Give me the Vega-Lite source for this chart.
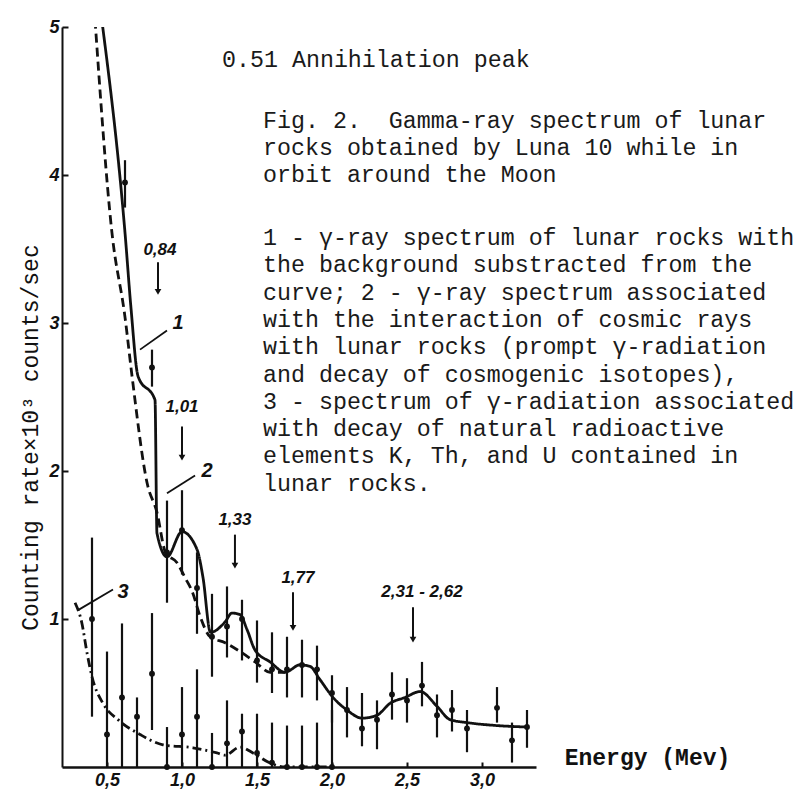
{
  "$schema": "https://vega.github.io/schema/vega-lite/v6.json",
  "autosize": {"type": "none"},
  "padding": {"left": 62, "top": 27, "right": 266, "bottom": 23},
  "width": 474,
  "height": 740,
  "background": "white",
  "config": {
    "view": {"stroke": null},
    "axis": {
      "labelFont": "Liberation Sans", "labelFontSize": 18, "labelFontStyle": "italic", "labelFontWeight": "bold",
      "labelColor": "#111", "tickColor": "#111", "tickWidth": 2, "domainColor": "#111", "grid": false,
      "titleColor": "#111"
    }
  },
  "datasets": {
    "curves": [
      {"curve": "1", "E": 0.465, "V": 5.05}, {"curve": "1", "E": 0.62, "V": 3.61}, {"curve": "1", "E": 0.66, "V": 3.1},
      {"curve": "1", "E": 0.707, "V": 2.64}, {"curve": "1", "E": 0.82, "V": 2.48}, {"curve": "1", "E": 0.833, "V": 1.58},
      {"curve": "1", "E": 0.9, "V": 1.42}, {"curve": "1", "E": 1.0, "V": 1.59}, {"curve": "1", "E": 1.1, "V": 1.47},
      {"curve": "1", "E": 1.14, "V": 1.28}, {"curve": "1", "E": 1.19, "V": 0.91}, {"curve": "1", "E": 1.287, "V": 0.98},
      {"curve": "1", "E": 1.333, "V": 1.04}, {"curve": "1", "E": 1.387, "V": 1.03}, {"curve": "1", "E": 1.433, "V": 0.93},
      {"curve": "1", "E": 1.487, "V": 0.79}, {"curve": "1", "E": 1.587, "V": 0.71}, {"curve": "1", "E": 1.687, "V": 0.64},
      {"curve": "1", "E": 1.787, "V": 0.69}, {"curve": "1", "E": 1.853, "V": 0.68}, {"curve": "1", "E": 1.92, "V": 0.59},
      {"curve": "1", "E": 2.007, "V": 0.47}, {"curve": "1", "E": 2.1, "V": 0.385}, {"curve": "1", "E": 2.2, "V": 0.33},
      {"curve": "1", "E": 2.3, "V": 0.35}, {"curve": "1", "E": 2.387, "V": 0.43}, {"curve": "1", "E": 2.487, "V": 0.47},
      {"curve": "1", "E": 2.587, "V": 0.51}, {"curve": "1", "E": 2.7, "V": 0.41}, {"curve": "1", "E": 2.787, "V": 0.32},
      {"curve": "1", "E": 2.9, "V": 0.3}, {"curve": "1", "E": 3.1, "V": 0.28}, {"curve": "1", "E": 3.3, "V": 0.27},
      {"curve": "2", "E": 0.42, "V": 5.05}, {"curve": "2", "E": 0.533, "V": 3.61}, {"curve": "2", "E": 0.62, "V": 3.04},
      {"curve": "2", "E": 0.667, "V": 2.64}, {"curve": "2", "E": 0.767, "V": 1.92}, {"curve": "2", "E": 0.833, "V": 1.72},
      {"curve": "2", "E": 0.89, "V": 1.45}, {"curve": "2", "E": 0.967, "V": 1.38}, {"curve": "2", "E": 1.02, "V": 1.28},
      {"curve": "2", "E": 1.07, "V": 1.18}, {"curve": "2", "E": 1.12, "V": 1.02}, {"curve": "2", "E": 1.187, "V": 0.88},
      {"curve": "2", "E": 1.287, "V": 0.84}, {"curve": "2", "E": 1.387, "V": 0.78}, {"curve": "2", "E": 1.487, "V": 0.71},
      {"curve": "2", "E": 1.587, "V": 0.64}, {"curve": "2", "E": 1.687, "V": 0.64},
      {"curve": "3", "E": 0.287, "V": 1.11}, {"curve": "3", "E": 0.333, "V": 0.97}, {"curve": "3", "E": 0.367, "V": 0.77},
      {"curve": "3", "E": 0.4, "V": 0.61}, {"curve": "3", "E": 0.473, "V": 0.43}, {"curve": "3", "E": 0.573, "V": 0.32},
      {"curve": "3", "E": 0.72, "V": 0.22}, {"curve": "3", "E": 0.873, "V": 0.15}, {"curve": "3", "E": 1.073, "V": 0.13},
      {"curve": "3", "E": 1.233, "V": 0.095}, {"curve": "3", "E": 1.287, "V": 0.08}, {"curve": "3", "E": 1.387, "V": 0.135},
      {"curve": "3", "E": 1.473, "V": 0.095}, {"curve": "3", "E": 1.587, "V": 0.027}, {"curve": "3", "E": 1.687, "V": 0},
      {"curve": "3", "E": 2.0, "V": 0}
    ],
    "points": [
      {"series": "upper", "E": 0.62, "V": 3.95, "lo": 3.78, "hi": 4.1},
      {"series": "upper", "E": 0.8, "V": 2.7, "lo": 2.57, "hi": 2.82},
      {"series": "upper", "E": 0.9, "V": 1.45, "lo": 1.11, "hi": 1.8},
      {"series": "upper", "E": 1.0, "V": 1.6, "lo": 1.3, "hi": 1.87},
      {"series": "upper", "E": 1.1, "V": 1.21, "lo": 0.9, "hi": 1.45},
      {"series": "upper", "E": 1.2, "V": 0.88, "lo": 0.61, "hi": 1.17},
      {"series": "upper", "E": 1.3, "V": 0.95, "lo": 0.74, "hi": 1.22},
      {"series": "upper", "E": 1.4, "V": 1.0, "lo": 0.72, "hi": 1.13},
      {"series": "upper", "E": 1.5, "V": 0.72, "lo": 0.57, "hi": 0.99},
      {"series": "upper", "E": 1.6, "V": 0.66, "lo": 0.5, "hi": 0.91},
      {"series": "upper", "E": 1.7, "V": 0.66, "lo": 0.47, "hi": 0.88},
      {"series": "upper", "E": 1.8, "V": 0.69, "lo": 0.47, "hi": 0.86},
      {"series": "upper", "E": 1.9, "V": 0.66, "lo": 0.45, "hi": 0.82},
      {"series": "upper", "E": 2.0, "V": 0.5, "lo": 0.3, "hi": 0.62},
      {"series": "upper", "E": 2.1, "V": 0.385, "lo": 0.2, "hi": 0.54},
      {"series": "upper", "E": 2.2, "V": 0.26, "lo": 0.14, "hi": 0.5},
      {"series": "upper", "E": 2.3, "V": 0.32, "lo": 0.12, "hi": 0.45},
      {"series": "upper", "E": 2.4, "V": 0.49, "lo": 0.32, "hi": 0.64},
      {"series": "upper", "E": 2.5, "V": 0.45, "lo": 0.3, "hi": 0.6},
      {"series": "upper", "E": 2.6, "V": 0.55, "lo": 0.41, "hi": 0.71},
      {"series": "upper", "E": 2.7, "V": 0.35, "lo": 0.2, "hi": 0.49},
      {"series": "upper", "E": 2.8, "V": 0.385, "lo": 0.24, "hi": 0.52},
      {"series": "upper", "E": 2.9, "V": 0.26, "lo": 0.1, "hi": 0.385},
      {"series": "upper", "E": 3.1, "V": 0.4, "lo": 0.3, "hi": 0.54},
      {"series": "upper", "E": 3.2, "V": 0.18, "lo": 0.03, "hi": 0.3},
      {"series": "upper", "E": 3.3, "V": 0.27, "lo": 0.13, "hi": 0.385},
      {"series": "lower", "E": 0.4, "V": 1.0, "lo": 0.34, "hi": 1.55},
      {"series": "lower", "E": 0.5, "V": 0.22, "lo": 0, "hi": 0.78},
      {"series": "lower", "E": 0.6, "V": 0.47, "lo": 0, "hi": 0.97},
      {"series": "lower", "E": 0.7, "V": 0.34, "lo": 0, "hi": 0.47},
      {"series": "lower", "E": 0.8, "V": 0.63, "lo": 0.25, "hi": 1.04},
      {"series": "lower", "E": 0.9, "V": 0, "lo": 0, "hi": 0.27},
      {"series": "lower", "E": 1.0, "V": 0.22, "lo": 0, "hi": 0.54},
      {"series": "lower", "E": 1.1, "V": 0.34, "lo": 0, "hi": 0.66},
      {"series": "lower", "E": 1.2, "V": 0, "lo": 0, "hi": 0.23},
      {"series": "lower", "E": 1.3, "V": 0.16, "lo": 0, "hi": 0.45},
      {"series": "lower", "E": 1.4, "V": 0.24, "lo": 0, "hi": 0.36},
      {"series": "lower", "E": 1.5, "V": 0.095, "lo": 0, "hi": 0.36},
      {"series": "lower", "E": 1.6, "V": 0.03, "lo": 0, "hi": 0.3},
      {"series": "lower", "E": 1.7, "V": 0, "lo": 0, "hi": 0.28},
      {"series": "lower", "E": 1.8, "V": 0, "lo": 0, "hi": 0.28},
      {"series": "lower", "E": 1.9, "V": 0, "lo": 0, "hi": 0.3},
      {"series": "lower", "E": 2.0, "V": 0, "lo": 0, "hi": 0.385}
    ],
    "arrows": [
      {"label": "0,84", "E": 0.84, "top": 3.41, "bottom": 3.21, "lx": 0.853, "ly": 3.49},
      {"label": "1,01", "E": 1.0, "top": 2.3, "bottom": 2.09, "lx": 1.0, "ly": 2.43},
      {"label": "1,33", "E": 1.353, "top": 1.57, "bottom": 1.36, "lx": 1.353, "ly": 1.67},
      {"label": "1,77", "E": 1.74, "top": 1.18, "bottom": 0.94, "lx": 1.773, "ly": 1.28},
      {"label": "2,31 - 2,62", "E": 2.54, "top": 1.08, "bottom": 0.86, "lx": 2.6, "ly": 1.18}
    ],
    "leaders": [
      {"c": "1", "E1": 0.72, "V1": 2.82, "E2": 0.9, "V2": 2.95, "lx": 0.973, "ly": 3.0},
      {"c": "2", "E1": 0.9, "V1": 1.85, "E2": 1.087, "V2": 1.97, "lx": 1.167, "ly": 2.0},
      {"c": "3", "E1": 0.307, "V1": 1.06, "E2": 0.54, "V2": 1.2, "lx": 0.607, "ly": 1.18}
    ],
    "notes": [
      {"E": 1.267, "V": 4.777, "text": "0.51 Annihilation peak"},
      {"E": 1.54, "V": 4.365, "text": "Fig. 2.\u00a0 Gamma-ray spectrum of lunar"},
      {"E": 1.54, "V": 4.182, "text": "rocks obtained by Luna 10 while in"},
      {"E": 1.54, "V": 4.0, "text": "orbit around the Moon"},
      {"E": 1.54, "V": 3.574, "text": "1 - γ-ray spectrum of lunar rocks with"},
      {"E": 1.54, "V": 3.39, "text": "the background substracted from the"},
      {"E": 1.54, "V": 3.205, "text": "curve; 2 - γ-ray spectrum associated"},
      {"E": 1.54, "V": 3.021, "text": "with the interaction of cosmic rays"},
      {"E": 1.54, "V": 2.836, "text": "with lunar rocks (prompt γ-radiation"},
      {"E": 1.54, "V": 2.652, "text": "and decay of cosmogenic isotopes),"},
      {"E": 1.54, "V": 2.468, "text": "3 - spectrum of γ-radiation associated"},
      {"E": 1.54, "V": 2.283, "text": "with decay of natural radioactive"},
      {"E": 1.54, "V": 2.099, "text": "elements K, Th, and U contained in"},
      {"E": 1.54, "V": 1.914, "text": "lunar rocks."}
    ]
  },
  "layer": [
    {
      "data": {"name": "curves"},
      "mark": {"type": "line", "interpolate": "monotone", "strokeWidth": 2.8, "color": "#111", "clip": true},
      "encoding": {
        "x": {
          "field": "E", "type": "quantitative",
          "scale": {"domain": [0.2, 3.36], "nice": false, "zero": false},
          "axis": {
            "values": [0.5, 1, 1.5, 2, 2.5, 3],
            "labelExpr": "replace(format(datum.value, '.1f'), '.', ',')",
            "title": "Energy (Mev)",
            "titleFont": "Liberation Mono", "titleFontSize": 23, "titleFontWeight": "bold",
            "titleX": 585, "titleY": -10, "titleAlign": "center", "titleBaseline": "middle", "titleAngle": 0,
            "labelFontSize": 18, "labelPadding": 9, "labelFlush": false,
            "tickSize": -5, "domainWidth": 2.6
          }
        },
        "y": {
          "field": "V", "type": "quantitative",
          "scale": {"domain": [0, 5], "nice": false, "zero": true},
          "axis": {
            "values": [1, 2, 3, 4, 5], "format": "d",
            "title": "Counting rate×10³ counts/sec",
            "titleFont": "Liberation Mono", "titleFontSize": 23, "titleFontWeight": "normal",
            "titleAngle": -90, "titleX": -32, "titleY": 410, "titleAlign": "center", "titleBaseline": "middle",
            "labelFontSize": 18, "labelPadding": 9,
            "tickSize": -6, "domainWidth": 2
          }
        },
        "strokeDash": {
          "field": "curve", "type": "nominal",
          "scale": {"domain": ["1", "2", "3"], "range": [[1, 0], [9, 5], [9, 4, 2, 4]]},
          "legend": null
        }
      }
    },
    {
      "data": {"name": "points"},
      "mark": {"type": "rule", "strokeWidth": 2.2, "color": "#111"},
      "encoding": {
        "x": {"field": "E", "type": "quantitative"},
        "y": {"field": "lo", "type": "quantitative"},
        "y2": {"field": "hi"}
      }
    },
    {
      "data": {"name": "points"},
      "mark": {"type": "point", "shape": "circle", "filled": true, "size": 34, "color": "#111", "opacity": 1},
      "encoding": {
        "x": {"field": "E", "type": "quantitative"},
        "y": {"field": "V", "type": "quantitative"}
      }
    },
    {
      "data": {"name": "arrows"},
      "mark": {"type": "rule", "strokeWidth": 2, "color": "#111"},
      "encoding": {
        "x": {"field": "E", "type": "quantitative"},
        "y": {"field": "top", "type": "quantitative"},
        "y2": {"field": "bottom"}
      }
    },
    {
      "data": {"name": "arrows"},
      "mark": {"type": "point", "shape": "triangle-down", "filled": true, "size": 45, "color": "#111", "opacity": 1},
      "encoding": {
        "x": {"field": "E", "type": "quantitative"},
        "y": {"field": "bottom", "type": "quantitative"}
      }
    },
    {
      "data": {"name": "arrows"},
      "mark": {"type": "text", "font": "Liberation Sans", "fontSize": 17, "fontStyle": "italic", "fontWeight": "bold", "color": "#111", "align": "center", "baseline": "middle"},
      "encoding": {
        "x": {"field": "lx", "type": "quantitative"},
        "y": {"field": "ly", "type": "quantitative"},
        "text": {"field": "label"}
      }
    },
    {
      "data": {"name": "leaders"},
      "mark": {"type": "rule", "strokeWidth": 1.8, "color": "#111"},
      "encoding": {
        "x": {"field": "E1", "type": "quantitative"},
        "y": {"field": "V1", "type": "quantitative"},
        "x2": {"field": "E2"},
        "y2": {"field": "V2"}
      }
    },
    {
      "data": {"name": "leaders"},
      "mark": {"type": "text", "font": "Liberation Sans", "fontSize": 20, "fontStyle": "italic", "fontWeight": "bold", "color": "#111", "align": "center", "baseline": "middle"},
      "encoding": {
        "x": {"field": "lx", "type": "quantitative"},
        "y": {"field": "ly", "type": "quantitative"},
        "text": {"field": "c"}
      }
    },
    {
      "data": {"name": "notes"},
      "mark": {"type": "text", "font": "Liberation Mono", "fontSize": 23.3, "color": "#1a1a1a", "align": "left", "baseline": "middle"},
      "encoding": {
        "x": {"field": "E", "type": "quantitative"},
        "y": {"field": "V", "type": "quantitative"},
        "text": {"field": "text"}
      }
    }
  ]
}
